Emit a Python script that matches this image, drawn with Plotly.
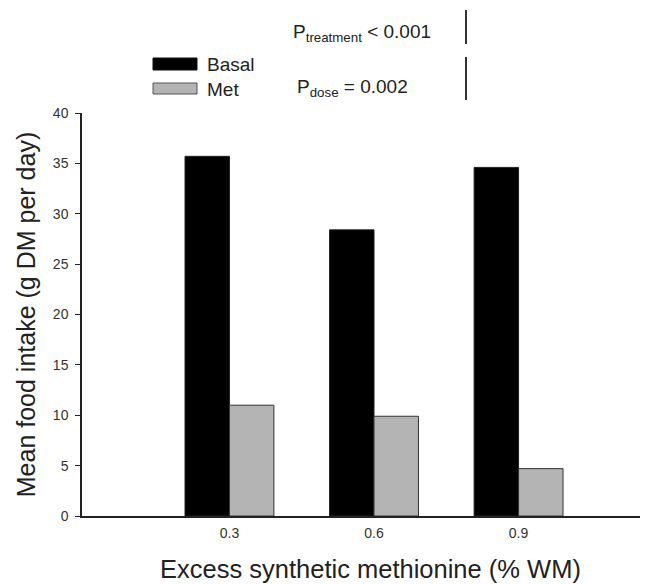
import plotly.graph_objects as go

categories = ["0.3", "0.6", "0.9"]
basal = [35.7, 28.4, 34.6]
met = [11.0, 9.9, 4.7]
y_ticks = [0, 5, 10, 15, 20, 25, 30, 35, 40]

FONT = "Liberation Sans, Arial, sans-serif"
W, H = 659, 584
L, R, T, B = 82, 19, 113, 68

fig = go.Figure()
fig.add_trace(go.Bar(x=categories, y=basal, name="Basal",
                     marker=dict(color="#000000", line=dict(color="#222222", width=1)),
                     showlegend=False))
fig.add_trace(go.Bar(x=categories, y=met, name="Met",
                     marker=dict(color="#b4b4b4", line=dict(color="#333333", width=1)),
                     showlegend=False))

def px_to_paper_x(px):
    return (px - L) / (W - L - R)

def px_to_paper_y(py):
    return (H - B - py) / (H - T - B)

shapes = []
# legend swatches
shapes.append(dict(type="rect", xref="paper", yref="paper",
                   x0=px_to_paper_x(153), x1=px_to_paper_x(197),
                   y0=px_to_paper_y(70), y1=px_to_paper_y(58),
                   fillcolor="#000000", line=dict(color="#111111", width=1)))
shapes.append(dict(type="rect", xref="paper", yref="paper",
                   x0=px_to_paper_x(153), x1=px_to_paper_x(197),
                   y0=px_to_paper_y(94), y1=px_to_paper_y(83),
                   fillcolor="#b4b4b4", line=dict(color="#555555", width=1)))
# vertical separators
shapes.append(dict(type="line", xref="paper", yref="paper",
                   x0=px_to_paper_x(466), x1=px_to_paper_x(466),
                   y0=px_to_paper_y(10), y1=px_to_paper_y(44),
                   line=dict(color="#333333", width=2)))
shapes.append(dict(type="line", xref="paper", yref="paper",
                   x0=px_to_paper_x(466), x1=px_to_paper_x(466),
                   y0=px_to_paper_y(57), y1=px_to_paper_y(100),
                   line=dict(color="#333333", width=2)))

TXT = dict(family=FONT, size=19, color="#222222")
annotations = [
    dict(text="Basal", x=px_to_paper_x(205), y=px_to_paper_y(64), xref="paper", yref="paper",
         xanchor="left", yanchor="middle", showarrow=False, font=TXT),
    dict(text="Met", x=px_to_paper_x(205), y=px_to_paper_y(89), xref="paper", yref="paper",
         xanchor="left", yanchor="middle", showarrow=False, font=TXT),
    dict(text="P<sub>treatment</sub> < 0.001", x=px_to_paper_x(291), y=px_to_paper_y(33), xref="paper", yref="paper",
         xanchor="left", yanchor="middle", showarrow=False, font=TXT),
    dict(text="P<sub>dose</sub> = 0.002", x=px_to_paper_x(295), y=px_to_paper_y(88), xref="paper", yref="paper",
         xanchor="left", yanchor="middle", showarrow=False, font=TXT),
    dict(text="Excess synthetic methionine (% WM)", x=px_to_paper_x(371), y=px_to_paper_y(569),
         xref="paper", yref="paper", xanchor="center", yanchor="middle", showarrow=False,
         font=dict(family=FONT, size=25.5, color="#222222")),
]

fig.update_layout(
    width=W, height=H,
    margin=dict(l=L, r=R, t=T, b=B),
    plot_bgcolor="white", paper_bgcolor="white",
    barmode="group", bargap=0.385, bargroupgap=0,
    shapes=shapes, annotations=annotations,
    font=dict(family=FONT, color="#222222"),
)
fig.update_xaxes(type="category", range=[-1.02, 2.84], showline=True, linecolor="#222222", linewidth=1.5,
                 ticks="", showgrid=False, zeroline=False, ticklabelstandoff=3, automargin=False,
                 tickfont=dict(family=FONT, size=14, color="#333333"))
fig.update_yaxes(range=[0, 40], tickvals=y_ticks, showline=True, linecolor="#222222", linewidth=1.5,
                 ticks="outside", ticklen=5, tickcolor="#222222", showgrid=False, zeroline=False,
                 ticklabelstandoff=4, automargin=False,
                 tickfont=dict(family=FONT, size=14, color="#333333"),
                 title=dict(text="Mean food intake (g DM per day)", standoff=10,
                            font=dict(family=FONT, size=25, color="#222222")))

fig.write_html("out.html")
